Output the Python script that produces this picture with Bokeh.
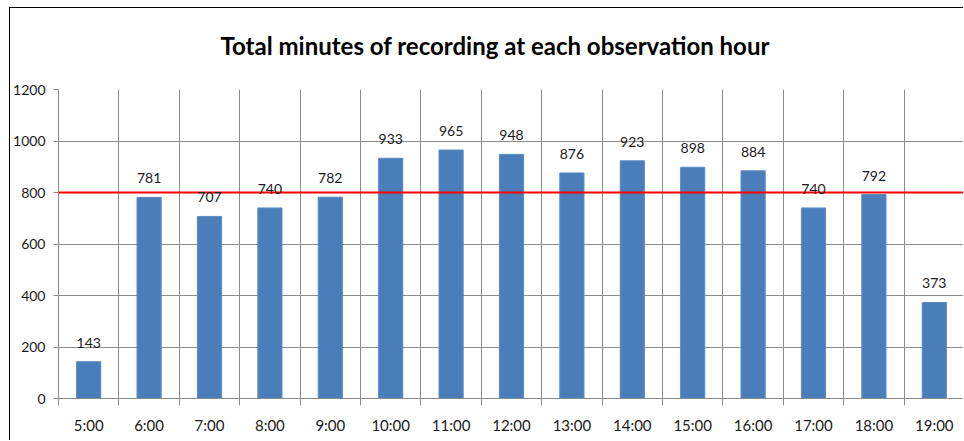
from bokeh.plotting import figure
from bokeh.models import FixedTicker, Span, LabelSet, Title, ColumnDataSource
from bokeh.core.properties import value
from bokeh.embed import file_html
from bokeh.resources import INLINE

# Recording time per observation hour (minutes)
hours = ["5:00", "6:00", "7:00", "8:00", "9:00", "10:00", "11:00", "12:00",
         "13:00", "14:00", "15:00", "16:00", "17:00", "18:00", "19:00"]
minutes = [143, 781, 707, 740, 782, 933, 965, 948, 876, 923, 898, 884, 740, 792, 373]
threshold = 800
y_ticks = [0, 200, 400, 600, 800, 1000, 1200]
title_text = "Total minutes of recording at each observation hour"

n = len(hours)
centers = [i + 0.5 for i in range(n)]
bounds = list(range(n + 1))

FONT = "Lato"
GRID = "#8c8c8c"

src = ColumnDataSource(data=dict(x=centers, top=minutes,
                                 label=[str(m) for m in minutes]))

p = figure(width=954, height=433, output_backend="svg", toolbar_location=None,
           x_range=(0, n), y_range=(0, 1200),
           min_border_left=48, min_border_right=0, min_border_top=81,
           min_border_bottom=43, margin=(7, 0, 0, 9))
p.styles = {"border-top": "1px solid black", "border-left": "1px solid black"}
p.outline_line_color = None

# chart heading
p.title.text = title_text
p.title.text_font = FONT
p.title.text_font_size = "24px"
p.title.text_font_style = "bold"
p.title.text_color = "black"
p.title.align = "left"
p.title.offset = 162
p.title.standoff = 0

# blank spacer panel between the heading and the plot area
p.add_layout(Title(text=" ", text_font_size="1px", standoff=27), "above")

p.vbar(x="x", top="top", width=0.4, source=src,
       fill_color="#4a7ebb", line_color="#5a8ac4", line_width=1)

p.add_layout(Span(location=threshold, dimension="width",
                  line_color="#ff0000", line_width=2))

p.add_layout(LabelSet(x="x", y="top", text="label", source=src,
                      text_align="center", text_baseline="alphabetic",
                      y_offset=14, text_font=value(FONT), text_font_size=value("14px"),
                      text_color="#1a1a1a"))

# x axis: labels at category centres, tick marks at category boundaries
p.xaxis.ticker = FixedTicker(ticks=centers, minor_ticks=bounds)
p.xaxis.major_label_overrides = {c: h for c, h in zip(centers, hours)}
p.xaxis.major_tick_line_color = None
p.xaxis.minor_tick_line_color = GRID
p.xaxis.minor_tick_out = 7
p.xaxis.minor_tick_in = 0
p.xaxis.axis_line_color = GRID
p.xaxis.major_label_text_font = FONT
p.xaxis.major_label_text_font_size = "15px"
p.xaxis.major_label_text_color = "#1a1a1a"
p.xaxis.major_label_standoff = 10

p.yaxis.ticker = FixedTicker(ticks=y_ticks)
p.yaxis.minor_tick_line_color = None
p.yaxis.major_tick_line_color = GRID
p.yaxis.major_tick_out = 5
p.yaxis.major_tick_in = 0
p.yaxis.axis_line_color = GRID
p.yaxis.major_label_text_font = FONT
p.yaxis.major_label_text_font_size = "14px"
p.yaxis.major_label_text_color = "#1a1a1a"
p.yaxis.major_label_standoff = 8

p.xgrid.ticker = FixedTicker(ticks=bounds)
p.xgrid.grid_line_color = GRID
p.ygrid.grid_line_color = GRID
p.xgrid.level = "underlay"
p.ygrid.level = "underlay"

open("out.html", "w").write(file_html(p, INLINE))
